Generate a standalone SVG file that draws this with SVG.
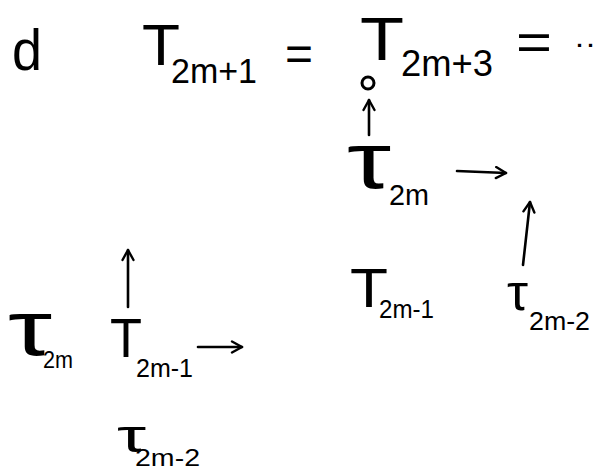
<svg xmlns="http://www.w3.org/2000/svg" width="597" height="472" viewBox="0 0 597 472">
<style>
text{font-family:"Liberation Sans","DejaVu Sans",sans-serif;fill:#000}
.c{stroke:#000;stroke-width:2.6;fill:none;stroke-linecap:round}
</style>
<defs>
<marker id="ah" viewBox="0 0 14 14" refX="12" refY="7" markerWidth="14" markerHeight="14" markerUnits="userSpaceOnUse" orient="auto">
<polyline points="2,1.5 12,7 2,12.5" fill="none" stroke="#000" stroke-width="2.4" stroke-linecap="round" stroke-linejoin="round"/>
</marker>
</defs>
<rect width="597" height="472" fill="#fff"/>
<g id="word"><text x="12" y="70" font-size="58" textLength="30" lengthAdjust="spacingAndGlyphs">d</text></g>
<g id="t2m1top"><text><tspan x="142" y="65" font-size="57" textLength="38" lengthAdjust="spacingAndGlyphs">T</tspan><tspan x="171" y="83" font-size="35" textLength="86" lengthAdjust="spacingAndGlyphs">2m+1</tspan></text></g>
<g id="eq1"><text x="285" y="70" font-size="48" textLength="28" lengthAdjust="spacingAndGlyphs">=</text></g>
<g id="t2m3"><text><tspan x="360" y="60" font-size="62" textLength="44" lengthAdjust="spacingAndGlyphs">T</tspan><tspan x="401" y="76" font-size="37" textLength="92" lengthAdjust="spacingAndGlyphs">2m+3</tspan></text></g>
<g id="eq2"><text x="516" y="60" font-size="52" textLength="36" lengthAdjust="spacingAndGlyphs">=</text><text x="574" y="53" font-size="30" textLength="22" lengthAdjust="spacingAndGlyphs">··</text></g>
<g id="circ"><circle cx="368" cy="83" r="6" fill="none" stroke="#000" stroke-width="3"/></g>
<g id="tau2mr"><text><tspan x="347" y="188" font-size="80" textLength="44" lengthAdjust="spacingAndGlyphs">τ</tspan><tspan x="389" y="205" font-size="30" textLength="40" lengthAdjust="spacingAndGlyphs">2m</tspan></text></g>
<g id="t2m1r"><text><tspan x="350" y="307" font-size="55" textLength="38" lengthAdjust="spacingAndGlyphs">T</tspan><tspan x="379" y="318" font-size="25" textLength="55" lengthAdjust="spacingAndGlyphs">2m-1</tspan></text></g>
<g id="tau2m2r"><text><tspan x="507" y="310" font-size="52" textLength="21" lengthAdjust="spacingAndGlyphs">τ</tspan><tspan x="529" y="330" font-size="26" textLength="61" lengthAdjust="spacingAndGlyphs">2m-2</tspan></text></g>
<g id="tau2ml"><text><tspan x="8" y="355" font-size="78" textLength="44" lengthAdjust="spacingAndGlyphs">τ</tspan><tspan x="43" y="368" font-size="23" textLength="30" lengthAdjust="spacingAndGlyphs">2m</tspan></text></g>
<g id="t2m1l"><text><tspan x="110" y="357" font-size="55" textLength="32" lengthAdjust="spacingAndGlyphs">T</tspan><tspan x="136" y="377" font-size="26" textLength="57" lengthAdjust="spacingAndGlyphs">2m-1</tspan></text></g>
<g id="tau2m2l"><text><tspan x="117" y="452" font-size="46" textLength="29" lengthAdjust="spacingAndGlyphs">τ</tspan><tspan x="135" y="466" font-size="24" textLength="65" lengthAdjust="spacingAndGlyphs">2m-2</tspan></text></g>
<g id="connectors">
<line class="c" x1="369" y1="135" x2="369" y2="100" marker-end="url(#ah)"/>
<line class="c" x1="457" y1="171" x2="506" y2="173" marker-end="url(#ah)"/>
<line class="c" x1="523" y1="265" x2="530" y2="202" marker-end="url(#ah)"/>
<line class="c" x1="128" y1="307" x2="128" y2="250" marker-end="url(#ah)"/>
<line class="c" x1="198" y1="347" x2="242" y2="347" marker-end="url(#ah)"/>
</g>
</svg>
